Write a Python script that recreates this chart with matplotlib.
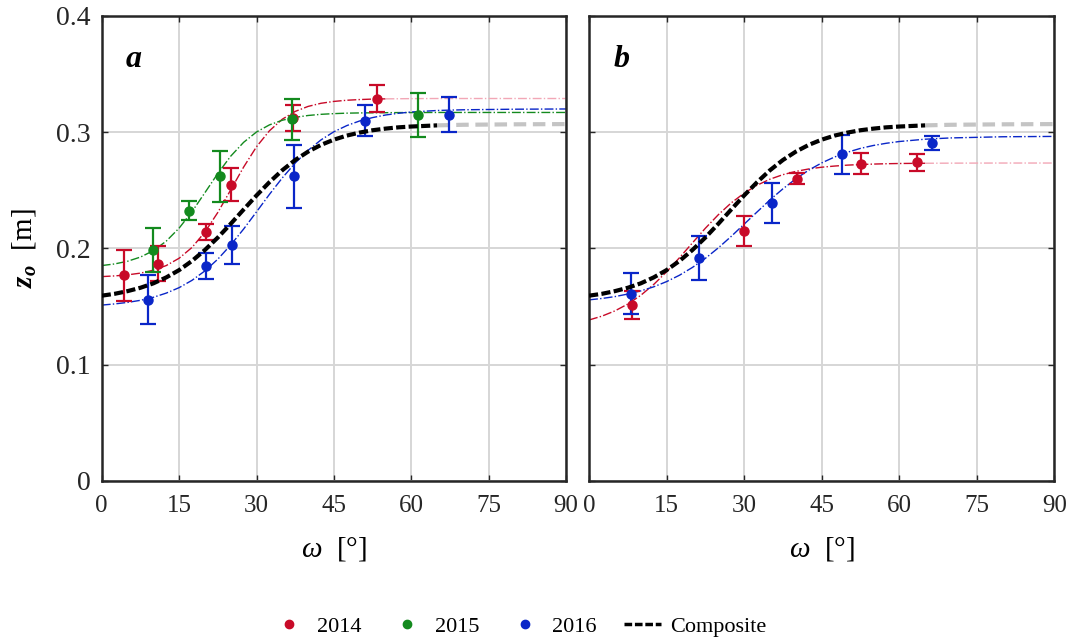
import numpy as np
import matplotlib
matplotlib.use('Agg')
import matplotlib.pyplot as plt
from matplotlib.lines import Line2D

plt.rcParams['font.family'] = ['Liberation Serif', 'DejaVu Serif']
plt.rcParams['mathtext.fontset'] = 'custom'
plt.rcParams['mathtext.rm'] = 'Liberation Serif'
plt.rcParams['mathtext.it'] = 'Liberation Serif:italic'
plt.rcParams['mathtext.bf'] = 'Liberation Serif:bold:italic'

# omega grid of the fitted curves
omega_fit = [0, 2.5, 5, 7.5, 10, 12.5, 15, 17.5, 20, 22.5, 25, 27.5, 30, 32.5, 35,
             37.5, 40, 42.5, 45, 47.5, 50, 52.5, 55, 57.5, 60, 65, 70, 80, 90]

# panel a fits
fit_a_2014 = [0.1758, 0.1764, 0.1773, 0.1788, 0.1813, 0.1853, 0.1916, 0.2009, 0.2141, 0.2310,
              0.2504, 0.2700, 0.2875, 0.3012, 0.3112, 0.3179, 0.3222, 0.3249, 0.3265, 0.3275,
              0.3281, 0.3285, 0.3287, 0.3288, 0.3289, 0.3290, 0.3290, 0.3290, 0.3290]
fit_a_2015 = [0.1853, 0.1867, 0.1890, 0.1926, 0.1981, 0.2063, 0.2175, 0.2317, 0.2480, 0.2645,
              0.2794, 0.2913, 0.3002, 0.3063, 0.3103, 0.3128, 0.3144, 0.3154, 0.3160, 0.3164,
              0.3166, 0.3167, 0.3168, 0.3169, 0.3169, 0.3170, 0.3170, 0.3170, 0.3170]
fit_a_2016 = [0.1513, 0.1523, 0.1536, 0.1554, 0.1580, 0.1616, 0.1663, 0.1726, 0.1807, 0.1908,
              0.2030, 0.2167, 0.2315, 0.2465, 0.2607, 0.2735, 0.2844, 0.2934, 0.3004, 0.3057,
              0.3097, 0.3126, 0.3148, 0.3163, 0.3174, 0.3187, 0.3193, 0.3198, 0.3200]
# panel b fits
fit_b_2014 = [0.1385, 0.1418, 0.1463, 0.1522, 0.1597, 0.1690, 0.1799, 0.1921, 0.2048, 0.2174,
              0.2290, 0.2392, 0.2476, 0.2544, 0.2596, 0.2635, 0.2663, 0.2684, 0.2699, 0.2709,
              0.2717, 0.2722, 0.2726, 0.2729, 0.2731, 0.2733, 0.2734, 0.2735, 0.2735]
fit_b_2016 = [0.1558, 0.1570, 0.1586, 0.1608, 0.1635, 0.1670, 0.1715, 0.1770, 0.1837, 0.1915,
              0.2005, 0.2104, 0.2209, 0.2314, 0.2418, 0.2513, 0.2599, 0.2674, 0.2736, 0.2787,
              0.2828, 0.2861, 0.2886, 0.2905, 0.2920, 0.2940, 0.2951, 0.2961, 0.2964]
# composite (same in both panels)
composite = [0.1594, 0.1610, 0.1633, 0.1662, 0.1700, 0.1751, 0.1814, 0.1893, 0.1987, 0.2094,
             0.2212, 0.2335, 0.2456, 0.2570, 0.2673, 0.2761, 0.2833, 0.2891, 0.2936, 0.2971,
             0.2997, 0.3017, 0.3031, 0.3042, 0.3049, 0.3059, 0.3064, 0.3068, 0.3070]

# measured points
a14_w = [4.4, 10.9, 20.2, 25.1, 37.0, 53.3]
a14_z = [0.177, 0.187, 0.214, 0.255, 0.312, 0.329]
a14_e = [0.022, 0.015, 0.007, 0.014, 0.011, 0.012]
a15_w = [9.9, 16.9, 23.0, 36.8, 61.4]
a15_z = [0.199, 0.2325, 0.262, 0.311, 0.315]
a15_e = [0.019, 0.008, 0.022, 0.018, 0.019]
a16_w = [8.9, 20.3, 25.3, 37.3, 51.0, 67.4]
a16_z = [0.156, 0.185, 0.203, 0.262, 0.310, 0.315]
a16_e = [0.021, 0.011, 0.016, 0.027, 0.0135, 0.015]
b14_w = [8.3, 29.9, 40.2, 52.7, 63.4]
b14_z = [0.151, 0.215, 0.260, 0.273, 0.274]
b14_e = [0.012, 0.013, 0.0045, 0.009, 0.007]
b16_w = [8.1, 21.2, 35.3, 49.0, 66.3]
b16_z = [0.161, 0.192, 0.239, 0.281, 0.2905]
b16_e = [0.0176, 0.019, 0.017, 0.017, 0.006]

c_red = '#c80a28'
c_pink = '#f2a7b6'
c_green = '#138a1e'
c_blue = '#0a26c8'
c_grey = '#c4c4c4'

w = np.array(omega_fit)
i55 = omega_fit.index(55)
i65 = omega_fit.index(65)

fig = plt.figure(figsize=(10.71, 6.39), dpi=100)
ax1 = fig.add_axes([0.095, 0.2473, 0.4335, 0.7277])
ax2 = fig.add_axes([0.550, 0.2473, 0.4344, 0.7277])


def fit(ax, y, color, split=None, light=None):
    y = np.array(y)
    if split is None:
        ax.plot(w, y, color=color, lw=1.0, ls='-.', zorder=2)
    else:
        ax.plot(w[:split + 1], y[:split + 1], color=color, lw=1.0, ls='-.', zorder=2)
        ax.plot(w[split:], y[split:], color=light, lw=1.0, ls='-.', zorder=2)


def points(ax, x, y, e, color):
    ax.errorbar(x, y, yerr=e, fmt='o', color=color, ms=6.5, elinewidth=1.6,
                capsize=6, capthick=1.6, zorder=4)


def comp(ax):
    c = np.array(composite)
    ax.plot(w[i65:], c[i65:], color=c_grey, lw=3, ls=(0, (3, 1.6)), zorder=3)
    ax.plot(w[:i65 + 1], c[:i65 + 1], color='black', lw=3, ls=(0, (2.2, 0.8)), zorder=5)


# panel a
fit(ax1, fit_a_2014, c_red, i55, c_pink)
fit(ax1, fit_a_2015, c_green)
fit(ax1, fit_a_2016, c_blue)
points(ax1, a14_w, a14_z, a14_e, c_red)
points(ax1, a15_w, a15_z, a15_e, c_green)
points(ax1, a16_w, a16_z, a16_e, c_blue)
comp(ax1)

# panel b
fit(ax2, fit_b_2014, c_red, i65, c_pink)
fit(ax2, fit_b_2016, c_blue)
points(ax2, b14_w, b14_z, b14_e, c_red)
points(ax2, b16_w, b16_z, b16_e, c_blue)
comp(ax2)

for ax, lab in [(ax1, 'a'), (ax2, 'b')]:
    ax.set_xlim(0, 90)
    ax.set_ylim(0, 0.4)
    ax.set_xticks(range(0, 91, 15))
    ax.set_yticks([0, 0.1, 0.2, 0.3, 0.4])
    ax.grid(True, color='#d6d6d6', lw=1.4)
    ax.set_axisbelow(True)
    ax.tick_params(direction='in', length=4, width=1, colors='#262626',
                   top=True, right=True)
    ax.tick_params(axis='x', labelsize=18, pad=10)
    ax.tick_params(axis='y', labelsize=20, pad=8)
    for s in ax.spines.values():
        s.set_linewidth(1.8)
        s.set_color('#262626')
    ax.text(0.052, 0.89, lab, transform=ax.transAxes, fontsize=23,
            fontweight='bold', fontstyle='italic')
    ax.set_xlabel(r'$\omega$  [°]', fontsize=21, labelpad=13)

ax1.set_yticklabels(['0', '0.1', '0.2', '0.3', '0.4'])
ax1.set_ylabel(r'$\mathbf{z_o}$  [m]', fontsize=21, labelpad=13)
ax2.set_yticklabels([])
for ax in (ax1, ax2):
    ax.set_xticklabels([str(v) for v in range(0, 91, 15)])

handles = [
    Line2D([], [], color=c_red, marker='o', ls='none', ms=6),
    Line2D([], [], color=c_green, marker='o', ls='none', ms=6),
    Line2D([], [], color=c_blue, marker='o', ls='none', ms=6),
    Line2D([], [], color='black', lw=2.5, ls=(0, (2.2, 0.8))),
]
fig.legend(handles, ['2014', '2015', '2016', 'Composite'], loc='center',
           bbox_to_anchor=(0.484, 0.019), ncol=4, frameon=False, fontsize=16,
           handlelength=1.7, handletextpad=0.4, columnspacing=1.2)

fig.savefig('out.png', dpi=100)
